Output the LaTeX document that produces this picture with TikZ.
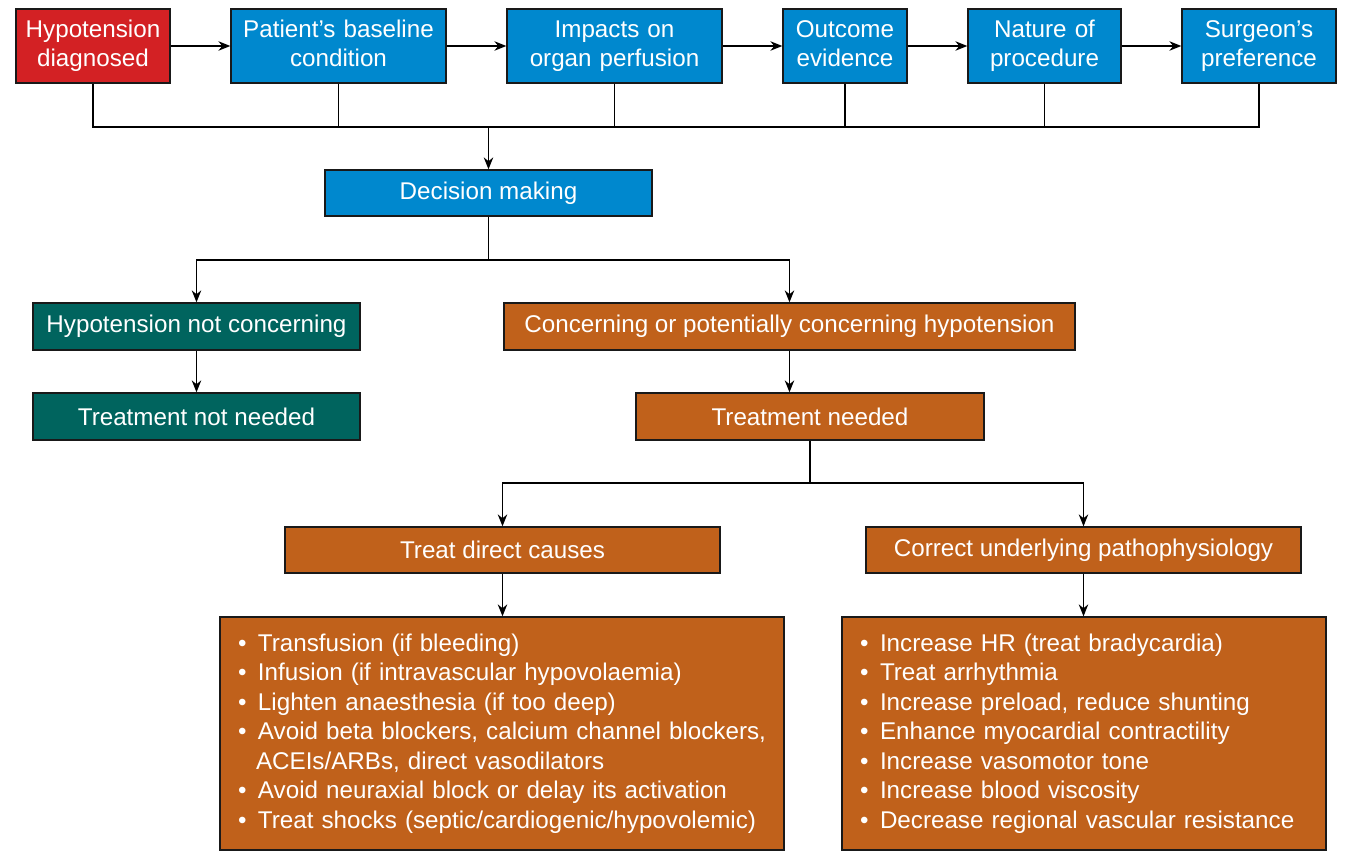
\documentclass[tikz,border=0pt]{standalone}
\usepackage{fontspec}
\setmainfont{Liberation Sans}
\usepackage{tikz}
\usetikzlibrary{arrows.meta,positioning}
\definecolor{hyred}{RGB}{211,33,36}
\definecolor{hyblue}{RGB}{0,136,206}
\definecolor{hyteal}{RGB}{0,100,94}
\definecolor{hyorange}{RGB}{192,97,27}
\tikzstyle{box} = [draw=black!90, line width=1.3pt, text=white, inner sep=0pt, font=\fontsize{24.2}{29.5}\selectfont, align=center]
\tikzstyle{topbox} = [box, fill=hyblue, minimum height=74pt, inner xsep=5pt]
\tikzstyle{arrow} = [line width=1.3pt, -{Stealth[length=12pt,width=9.5pt]}]
\tikzstyle{line} = [line width=1.3pt]
\newcommand{\itm}[1]{\mbox{\makebox[20pt][l]{\textbullet}#1}}

\begin{document}
\begin{tikzpicture}[x=1pt, y=-1pt]
\useasboundingbox (0,0) rectangle (1351,857);

% Top row
\node[topbox, fill=hyred, text width=144pt] (hypo) at (93,46) {\strut Hypotension\\diagnosed\strut};
\node[topbox, text width=205pt] (base) at (338.5,46) {\strut Patient’s baseline\\condition\strut};
\node[topbox, text width=205pt] (impact) at (614.5,46) {\strut Impacts on\\organ perfusion\strut};
\node[topbox, text width=114pt] (outcome) at (845,46) {\strut Outcome\\evidence\strut};
\node[topbox, text width=143pt] (nature) at (1044.5,46) {\strut Nature of\\procedure\strut};
\node[topbox, text width=144pt] (surgeon) at (1259,46) {\strut Surgeon’s\\preference\strut};

\foreach \a/\b in {hypo/base, base/impact, impact/outcome, outcome/nature, nature/surgeon}
  \draw[arrow] (\a) -- (\b);

% Decision
\node[box, fill=hyblue, minimum width=327pt, minimum height=46pt] (decision) at (488.5,193) {Decision making};

\coordinate (bus) at (488.5,127);
\draw[line] (hypo.south) |- (surgeon.south |- bus) -- (surgeon.south);
\foreach \n in {base, impact, outcome, nature}
  \draw[line] (\n.south) -- (\n.south |- bus);
\draw[arrow] (bus) -- (decision.north);

% Two branches
\node[box, fill=hyteal, minimum width=327pt, minimum height=47pt] (notconc) at (196.5,326.5) {Hypotension not concerning};
\node[box, fill=hyteal, minimum width=327pt, minimum height=47pt] (notneeded) at (196.5,416.5) {Treatment not needed};
\node[box, fill=hyorange, minimum width=571pt, minimum height=47pt] (conc) at (789.5,326.5) {Concerning or potentially concerning hypotension};
\node[box, fill=hyorange, minimum width=348pt, minimum height=47pt] (needed) at (810,416.5) {Treatment needed};

\coordinate (split1) at (488.5,260);
\draw[line] (decision.south) -- (split1);
\draw[arrow] (split1) -| (notconc.north);
\draw[arrow] (split1) -| (conc.north);
\draw[arrow] (notconc) -- (notneeded);
\draw[arrow] (conc.south) -- (conc.south |- needed.north);

% Treatment
\node[box, fill=hyorange, minimum width=435pt, minimum height=46pt] (direct) at (502.5,550) {Treat direct causes};
\node[box, fill=hyorange, minimum width=435pt, minimum height=46pt] (correct) at (1083.5,550) {Correct underlying pathophysiology};

\coordinate (split2) at (810,483);
\draw[line] (needed.south) -- (split2);
\draw[arrow] (split2) -| (direct.north);
\draw[arrow] (split2) -| (correct.north);

% Lists
\node[box, fill=hyorange, minimum height=233pt, align=left, text width=528pt, inner xsep=18pt] (causes) at (502,733.5) {%
\itm{Transfusion (if bleeding)}\\
\itm{Infusion (if intravascular hypovolaemia)}\\
\itm{Lighten anaesthesia (if too deep)}\\
\itm{Avoid beta blockers, calcium channel blockers,}\\
\mbox{\hspace*{18pt}ACEIs/ARBs, direct vasodilators}\\
\itm{Avoid neuraxial block or delay its activation}\\
\itm{Treat shocks (septic/cardiogenic/hypovolemic)}};
\node[box, fill=hyorange, minimum height=233pt, align=left, text width=448pt, inner xsep=18pt] (patho) at (1084,733.5) {%
\itm{Increase HR (treat bradycardia)}\\
\itm{Treat arrhythmia}\\
\itm{Increase preload, reduce shunting}\\
\itm{Enhance myocardial contractility}\\
\itm{Increase vasomotor tone}\\
\itm{Increase blood viscosity}\\
\itm{Decrease regional vascular resistance}};

\draw[arrow] (direct) -- (direct |- causes.north);
\draw[arrow] (correct) -- (correct |- patho.north);
\end{tikzpicture}
\end{document}
